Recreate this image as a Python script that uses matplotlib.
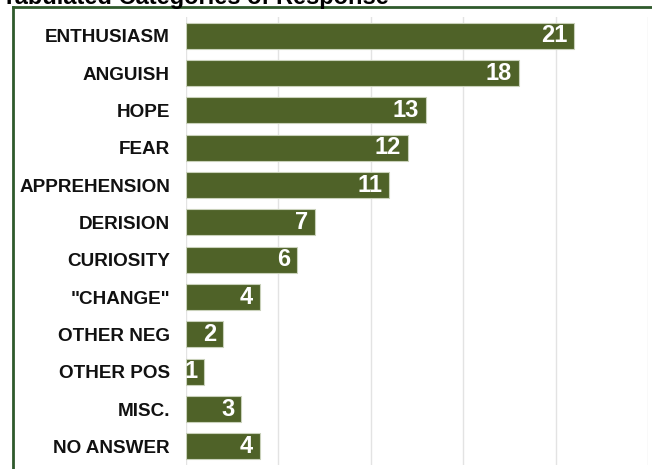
import matplotlib
matplotlib.use("Agg")
import matplotlib.pyplot as plt
from matplotlib.lines import Line2D

plt.rcParams['font.family'] = ['Liberation Sans', 'DejaVu Sans']

categories = ["ENTHUSIASM", "ANGUISH", "HOPE", "FEAR", "APPREHENSION", "DERISION",
              "CURIOSITY", '"CHANGE"', "OTHER NEG", "OTHER POS", "MISC.", "NO ANSWER"]
counts = [21, 18, 13, 12, 11, 7, 6, 4, 2, 1, 3, 4]
title = "Tabulated Categories of Response"

W, H = 652, 469
fig = plt.figure(figsize=(W / 100, H / 100), dpi=100)
ax = fig.add_axes([186 / W, 4 / H, (648 - 186) / W, (465 - 17) / H])

pos = list(range(len(categories)))
bars = ax.barh(pos, counts, height=0.7, color="#4f6228", edgecolor="#c9d1ba", linewidth=0.8, zorder=3)
ax.set_ylim(len(categories) - 0.5, -0.5)
ax.set_xlim(0, 25)
ax.set_xticks([0, 5, 10, 15, 20, 25])
ax.set_xticklabels([])
ax.grid(axis="x", color="#e3e3e3", linewidth=1, zorder=0)
ax.set_yticks(pos)
ax.set_yticklabels(categories, fontsize=13.6, fontweight="bold", color="#111111")
ax.tick_params(axis="y", length=0, pad=11.5)
ax.tick_params(axis="x", length=0)
for s in ax.spines.values():
    s.set_visible(False)

for b, v in zip(bars, counts):
    ax.annotate(str(v), (b.get_width(), b.get_y() + b.get_height() / 2),
                xytext=(-5, 0), textcoords="offset points", ha="right", va="center",
                color="white", fontsize=17, fontweight="bold", zorder=4)

# frame around the chart area
green = "#2f5a2c"
fig.add_artist(Line2D([13 / W, 13 / W], [0, 1 - 7 / H], color=green, linewidth=2))
fig.add_artist(Line2D([13 / W, 1], [1 - 7 / H, 1 - 7 / H], color=green, linewidth=2))

# title cut off at the top
fig.text(2 / W, 1 - 4 / H, title, ha="left", va="baseline", fontsize=17, fontweight="bold", color="black")

fig.savefig("out.png", dpi=100)
